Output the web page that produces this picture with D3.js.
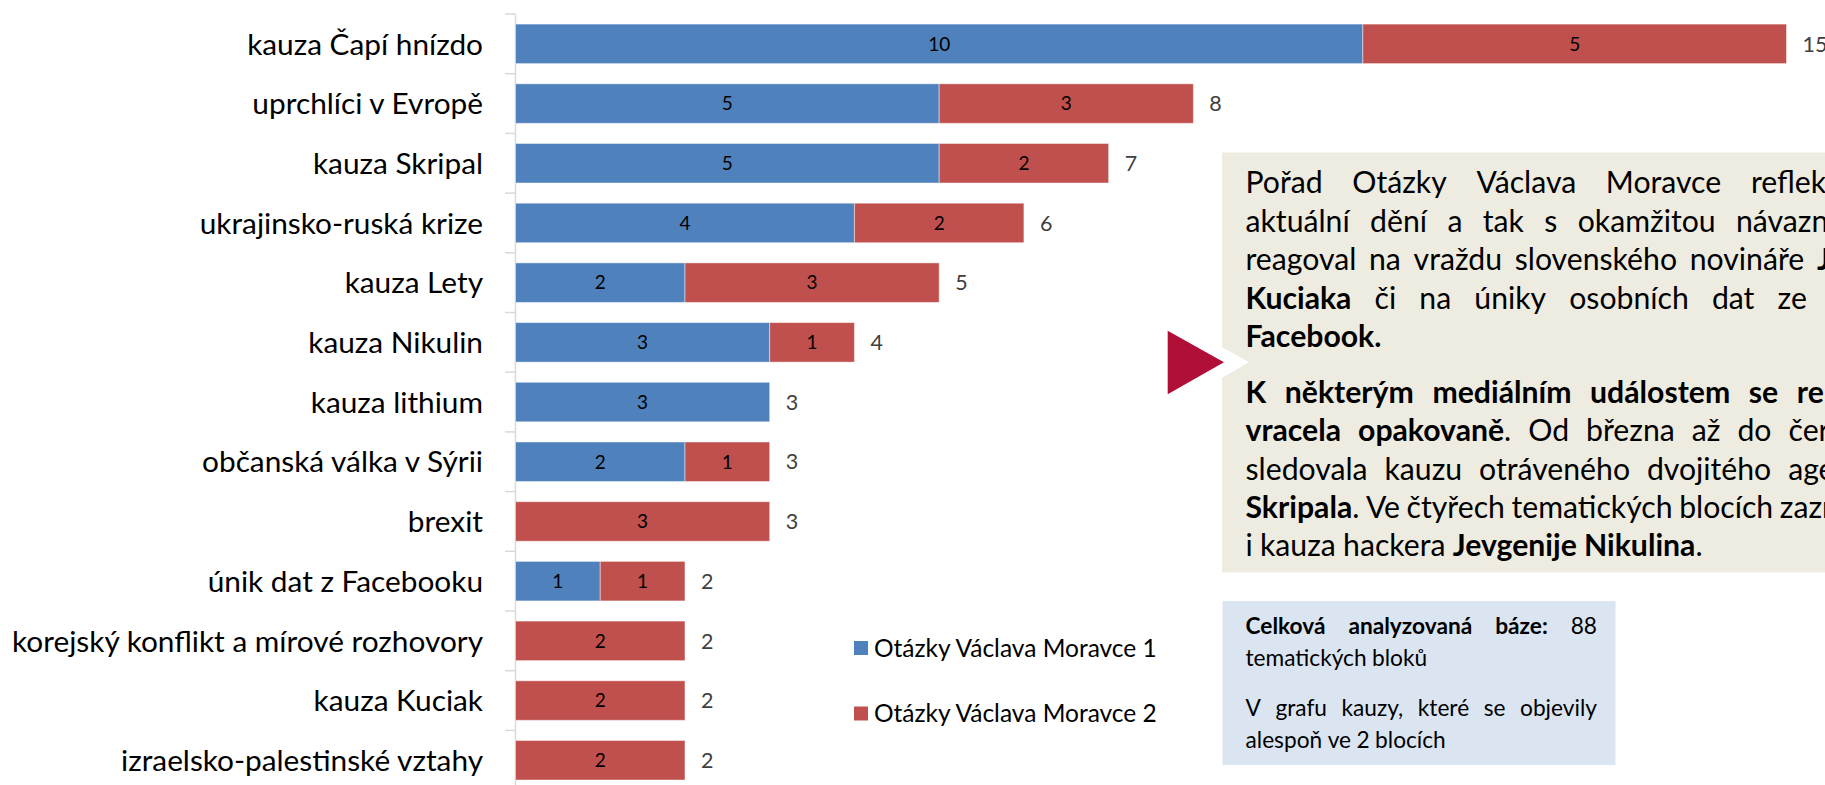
<!DOCTYPE html>
<html>
<head>
<meta charset="utf-8">
<script src="https://cdn.jsdelivr.net/npm/d3@7"></script>
<style>
  html, body { margin: 0; padding: 0; background: #fff; }
  svg { display: block; font-family: Lato, "Open Sans", sans-serif; }
</style>
</head>
<body>
<svg id="chart" width="1825" height="785"></svg>
<script>
// data
const categories = [
  "kauza Čapí hnízdo", "uprchlíci v Evropě", "kauza Skripal", "ukrajinsko-ruská krize",
  "kauza Lety", "kauza Nikulin", "kauza lithium", "občanská válka v Sýrii", "brexit",
  "únik dat z Facebooku", "korejský konflikt a mírové rozhovory", "kauza Kuciak",
  "izraelsko-palestinské vztahy"
];
const ovm1 = [10, 5, 5, 4, 2, 3, 3, 2, 0, 1, 0, 0, 0];
const ovm2 = [5, 3, 2, 2, 3, 1, 0, 1, 3, 1, 2, 2, 2];
const seriesNames = ["Otázky Václava Moravce 1", "Otázky Václava Moravce 2"];
const seriesColors = ["#4F81BD", "#C0504D"];

// text boxes, *...* marks bold
const noteLines = [
  ["Pořad Otázky Václava Moravce reflektuje", "aktuální dění a tak s okamžitou návazností",
   "reagoval na vraždu slovenského novináře *Jána*", "*Kuciaka* či na úniky osobních dat ze sítě",
   "*Facebook.*"],
  ["*K některým mediálním událostem se relace*", "*vracela opakovaně*. Od března až do června",
   "sledovala kauzu otráveného dvojitého agenta", "*Skripala*. Ve čtyřech tematických blocích zazněla",
   "i kauza hackera *Jevgenije Nikulina*."]
];
const infoLines = [
  ["*Celková analyzovaná báze:* 88", "tematických bloků"],
  ["V grafu kauzy, které se objevily", "alespoň ve 2 blocích"]
];

const svg = d3.select("#chart");

const rows = categories.map((c, i) => ({ cat: c, s0: ovm1[i], s1: ovm2[i] }));
const stacked = d3.stack().keys(["s0", "s1"])(rows);

const x = d3.scaleLinear().domain([0, 15]).range([515.5, 1786.5]);
const y = d3.scaleBand().domain(categories).range([14, 790.1])
  .paddingInner(0.338).paddingOuter(0.169);

// axis: line plus ticks between categories
const axis = svg.append("g").attr("stroke", "#D9D9D9").attr("stroke-width", 1.5);
axis.append("line").attr("x1", x(0)).attr("x2", x(0)).attr("y1", 14).attr("y2", 785);
axis.selectAll("line.tick")
  .data(d3.range(categories.length + 1))
  .join("line")
  .attr("class", "tick")
  .attr("x1", x(0) - 10.5).attr("x2", x(0))
  .attr("y1", i => 14 + i * y.step()).attr("y2", i => 14 + i * y.step());

svg.append("g")
  .selectAll("text")
  .data(categories)
  .join("text")
  .attr("x", 483)
  .attr("y", d => y(d) + y.bandwidth() / 2)
  .attr("dy", "0.36em")
  .attr("text-anchor", "end")
  .attr("font-size", 29.8)
  .attr("fill", "#000")
  .text(d => d);

// bars
const layer = svg.append("g")
  .selectAll("g")
  .data(stacked)
  .join("g")
  .attr("fill", (d, i) => seriesColors[i]);

layer.selectAll("rect")
  .data(d => d.filter(p => p[1] > p[0]))
  .join("rect")
  .attr("x", d => x(d[0]))
  .attr("width", d => x(d[1]) - x(d[0]))
  .attr("y", d => y(d.data.cat))
  .attr("height", y.bandwidth())
  .attr("stroke", "#fff")
  .attr("stroke-opacity", 0.45)
  .attr("stroke-width", 1);

layer.selectAll("text")
  .data(d => d.filter(p => p[1] > p[0]))
  .join("text")
  .attr("x", d => (x(d[0]) + x(d[1])) / 2)
  .attr("y", d => y(d.data.cat) + y.bandwidth() / 2)
  .attr("dy", "0.36em")
  .attr("text-anchor", "middle")
  .attr("font-size", 19)
  .attr("fill", "#000")
  .text(d => d[1] - d[0]);

// totals
svg.append("g")
  .selectAll("text")
  .data(rows)
  .join("text")
  .attr("x", d => x(d.s0 + d.s1) + 16)
  .attr("y", d => y(d.cat) + y.bandwidth() / 2)
  .attr("dy", "0.36em")
  .attr("font-size", 21.5)
  .attr("fill", "#404040")
  .text(d => d.s0 + d.s1);

// legend
const legend = svg.append("g")
  .selectAll("g")
  .data(seriesNames)
  .join("g")
  .attr("transform", (d, i) => `translate(854,${648 + i * 65.5})`);
legend.append("rect")
  .attr("x", 0).attr("y", -7).attr("width", 14).attr("height", 14)
  .attr("fill", (d, i) => seriesColors[i]);
legend.append("text")
  .attr("x", 20).attr("dy", "0.36em")
  .attr("font-size", 24.5)
  .attr("fill", "#000")
  .text(d => d);

// justified text block helper
function parseLine(str) {
  const words = [];
  let bold = false, cur = [], buf = "";
  const flush = () => { if (buf) { cur.push({ t: buf, b: bold }); buf = ""; } };
  for (const ch of str) {
    if (ch === "*") { flush(); bold = !bold; }
    else if (ch === " ") { flush(); if (cur.length) words.push(cur); cur = []; }
    else buf += ch;
  }
  flush();
  if (cur.length) words.push(cur);
  return words;
}

function textBlock(g, paragraphs, opts) {
  let baseline = opts.top;
  paragraphs.forEach((para, pi) => {
    if (pi > 0) baseline += opts.paraGap;
    para.forEach((line, li) => {
      const words = parseLine(line);
      const nodes = words.map(w => {
        const t = g.append("text")
          .attr("y", baseline)
          .attr("font-size", opts.size)
          .attr("fill", "#000");
        w.forEach(seg => t.append("tspan").attr("font-weight", seg.b ? 700 : 400).text(seg.t));
        return t;
      });
      const widths = nodes.map(n => n.node().getComputedTextLength());
      const total = d3.sum(widths);
      const last = li === para.length - 1;
      const gap = (last || words.length < 2) ? opts.size * 0.24 : (opts.width - total) / (words.length - 1);
      let cx = opts.left;
      nodes.forEach((n, k) => { n.attr("x", cx); cx += widths[k] + gap; });
      baseline += opts.lineH;
    });
  });
}

// note box with pointer
svg.append("rect")
  .attr("x", 1222).attr("y", 152.5).attr("width", 680).attr("height", 420)
  .attr("fill", "#EEECE1");
svg.append("polygon")
  .attr("points", "1221.7,347 1249,362.3 1221.7,378")
  .attr("fill", "#fff");
svg.append("polygon")
  .attr("points", "1167.7,330.7 1224,362.3 1167.7,394.3")
  .attr("fill", "#B01038");
textBlock(svg.append("g"), noteLines, {
  left: 1245.5, width: 631.5, top: 193.3, lineH: 38.4, paraGap: 17.5, size: 30.2
});

// info box
svg.append("rect")
  .attr("x", 1222.5).attr("y", 601).attr("width", 393).attr("height", 164)
  .attr("fill", "#DBE5F1");
textBlock(svg.append("g"), infoLines, {
  left: 1245.5, width: 351.5, top: 634, lineH: 32, paraGap: 18, size: 22.7
});
</script>
</body>
</html>
